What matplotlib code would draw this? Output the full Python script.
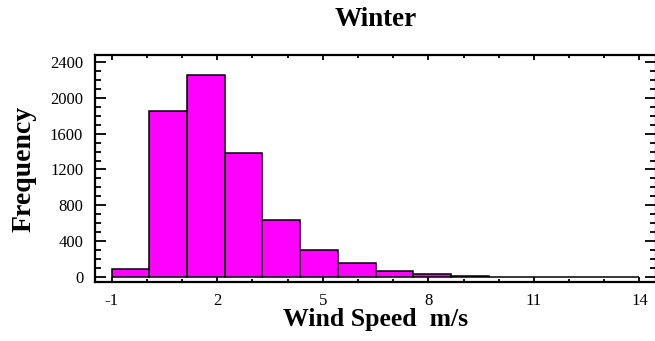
import matplotlib
matplotlib.use("Agg")
import matplotlib.pyplot as plt
import numpy as np
from matplotlib.ticker import MultipleLocator

# Histogram of winter wind speeds: 14 equal-width classes spanning -1 .. 14 m/s
bin_lower = -1.0
bin_upper = 14.0
counts = [85, 1855, 2255, 1385, 640, 305, 150, 67, 33, 4, 3, 2, 1, 1]
x_ticks = [-1, 2, 5, 8, 11, 14]
y_ticks = [0, 400, 800, 1200, 1600, 2000, 2400]

edges = np.linspace(bin_lower, bin_upper, len(counts) + 1)
widths = np.diff(edges)

plt.rcParams["font.family"] = ["Liberation Serif", "DejaVu Serif"]

fig = plt.figure(figsize=(6.55, 3.41), dpi=100)
ax = fig.add_axes([95 / 655, 1 - 282 / 341, 561 / 655, 227 / 341])

ax.bar(edges[:-1], counts, width=widths, align="edge",
       color="#ff00ff", edgecolor="black", linewidth=1.1)

ax.set_xlim(-1.475, 14.47)
ax.set_ylim(-58, 2480)
ax.set_xticks(x_ticks)
ax.set_xticklabels([str(t) for t in x_ticks])
ax.set_yticks(y_ticks)
ax.set_yticklabels([str(t) for t in y_ticks])
ax.xaxis.set_minor_locator(MultipleLocator(1))
ax.yaxis.set_minor_locator(MultipleLocator(100))

for s in ax.spines.values():
    s.set_linewidth(1.6)

ax.tick_params(axis="x", which="both", direction="in", top=True, bottom=True,
               labelsize=12, pad=8, width=1.3)
ax.tick_params(axis="x", which="major", length=3.5)
ax.tick_params(axis="x", which="minor", length=2)
ax.tick_params(axis="y", which="both", direction="in", left=True, right=True,
               labelsize=12, pad=8.5, width=1.3)
ax.tick_params(axis="y", which="major", length=8)
ax.tick_params(axis="y", which="minor", length=4.5)

ax.set_xlabel("Wind Speed  m/s", fontsize=18.5, fontweight="bold")
ax.xaxis.label.set_va("baseline")
ax.xaxis.set_label_coords((376 - 95) / 561, -(326 - 282) / 227)
ax.set_ylabel("Frequency", fontsize=20, fontweight="bold")
ax.yaxis.set_label_coords(-0.105, 0.5)

fig.text(376 / 655, 1 - 26 / 341, "Winter", ha="center", va="baseline",
         fontsize=19.5, fontweight="bold")

fig.savefig("out.png", dpi=100)
